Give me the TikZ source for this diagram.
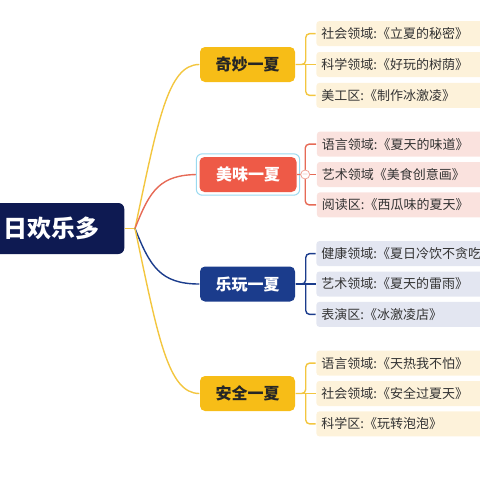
\documentclass[tikz,border=0pt]{standalone}
\usepackage{fontspec}
\setmainfont{Noto Sans CJK SC}
\usetikzlibrary{positioning}

\definecolor{rootblue}{HTML}{0E1A52}
\definecolor{sunyellow}{HTML}{F7BD17}
\definecolor{lineyellow}{HTML}{F3C63F}
\definecolor{coral}{HTML}{EE5A47}
\definecolor{linecoral}{HTML}{E66A56}
\definecolor{navy}{HTML}{1B3C8C}
\definecolor{selblue}{HTML}{9ADAF0}
\definecolor{paleyellow}{HTML}{FDF2DA}
\definecolor{palepink}{HTML}{FAE2DE}
\definecolor{palenavy}{HTML}{E3E6F1}
\definecolor{leaftext}{HTML}{333333}

\begin{document}
\begin{tikzpicture}[x=1pt, y=-1pt, font=\fontsize{13}{15}\selectfont, line width=1.4pt]
    % Styles
    \tikzstyle{root} = [fill=rootblue, rounded corners=6pt, text=white, font=\fontsize{24}{28}\selectfont\bfseries, text width=98pt, align=right, inner xsep=25pt, minimum height=51pt]
    \tikzstyle{theme} = [rounded corners=5pt, minimum width=95pt, minimum height=35pt, font=\fontsize{16}{19}\selectfont\bfseries]
    \tikzstyle{leaf} = [rounded corners=3pt, minimum height=25pt, text width=170pt, inner xsep=5pt, align=left, text=leaftext]

    \useasboundingbox (0,0) rectangle (480,480);
    \clip (0,0) rectangle (480,480);

    % Nodes
    \node (root) [root, anchor=east] at (125,228.5) {日欢乐多};
    \coordinate (hub) at (135,228.5);

    \node (qimiao) [theme, fill=sunyellow, text=black!85] at (247.5,64.5) {奇妙一夏};
    \node (meiwei) [theme, fill=coral, text=white, minimum width=97pt] at (248,174.5) {美味一夏};
    \node (lewan) [theme, fill=navy, text=white] at (247.5,284) {乐玩一夏};
    \node (anquan) [theme, fill=sunyellow, text=black!85] at (247.5,393.5) {安全一夏};

    % Leaves of 奇妙一夏
    \node (qm2) [leaf, fill=paleyellow, right=20pt of qimiao] {科学领域:《好玩的树荫》};
    \node (qm1) [leaf, fill=paleyellow, above=4.5pt of qm2] {社会领域:《立夏的秘密》};
    \node (qm3) [leaf, fill=paleyellow, below=4.5pt of qm2] {美工区:《制作冰激凌》};

    % Leaves of 美味一夏
    \node (mw2) [leaf, fill=palepink, right=19pt of meiwei] {艺术领域《美食创意画》};
    \node (mw1) [leaf, fill=palepink, above=4pt of mw2] {语言领域:《夏天的味道》};
    \node (mw3) [leaf, fill=palepink, below=4pt of mw2] {阅读区:《西瓜味的夏天》};

    % Leaves of 乐玩一夏
    \node (lw2) [leaf, fill=palenavy, right=20pt of lewan] {艺术领域:《夏天的雷雨》};
    \node (lw1) [leaf, fill=palenavy, above=4pt of lw2] {健康领域:《夏日冷饮不贪吃》};
    \node (lw3) [leaf, fill=palenavy, below=4pt of lw2] {表演区:《冰激凌店》};

    % Leaves of 安全一夏
    \node (aq2) [leaf, fill=paleyellow, right=20pt of anquan] {社会领域:《安全过夏天》};
    \node (aq1) [leaf, fill=paleyellow, above=4pt of aq2] {语言领域:《天热我不怕》};
    \node (aq3) [leaf, fill=paleyellow, below=4pt of aq2] {科学区:《玩转泡泡》};

    % Paths: root to themes
    \draw [lineyellow] (root.east |- hub) -- (hub);
    \draw [lineyellow] (hub) .. controls (158,120) and (168,64.5) .. (qimiao.west);
    \draw [linecoral] (hub) .. controls (150,190) and (160,174.5) .. (meiwei.west);
    \draw [navy] (hub) .. controls (150,266) and (160,284) .. (lewan.west);
    \draw [lineyellow] (hub) .. controls (158,337) and (168,393.5) .. (anquan.west);

    % selection frame round 美味一夏
    \draw [selblue, line width=1pt, rounded corners=6pt, fill=white] ([shift={(-2.5,-2.5)}]meiwei.north west) rectangle ([shift={(2.5,2.5)}]meiwei.south east);
    \node [theme, fill=coral, text=white, minimum width=97pt] at (meiwei) {美味一夏};

    % Paths: themes to leaves
    \coordinate (j1) at ([xshift=10pt]qimiao.east);
    \coordinate (j2) at ([xshift=8pt]meiwei.east);
    \coordinate (j3) at ([xshift=10pt]lewan.east);
    \coordinate (j4) at ([xshift=10pt]anquan.east);

    \draw [lineyellow, rounded corners=4pt] (qimiao.east) -- (j1) |- (qm1.west);
    \draw [lineyellow] (qimiao.east) -- (qm2.west);
    \draw [lineyellow, rounded corners=4pt] (j1) |- (qm3.west);

    \draw [linecoral, rounded corners=4pt] (meiwei.east) -- (j2) |- (mw1.west);
    \draw [linecoral] (meiwei.east) -- (mw2.west);
    \draw [linecoral, rounded corners=4pt] (j2) |- (mw3.west);

    \draw [navy, rounded corners=4pt] (lewan.east) -- (j3) |- (lw1.west);
    \draw [navy] (lewan.east) -- (lw2.west);
    \draw [navy, rounded corners=4pt] (j3) |- (lw3.west);

    \draw [lineyellow, rounded corners=4pt] (anquan.east) -- (j4) |- (aq1.west);
    \draw [lineyellow] (anquan.east) -- (aq2.west);
    \draw [lineyellow, rounded corners=4pt] (j4) |- (aq3.west);

    % fold button
    \node (fold) [circle, draw=linecoral!60, fill=white, line width=0.8pt, inner sep=0pt, minimum size=9pt, font=\fontsize{8}{8}\selectfont, text=linecoral!70] at (j2) {$-$};

\end{tikzpicture}
\end{document}
